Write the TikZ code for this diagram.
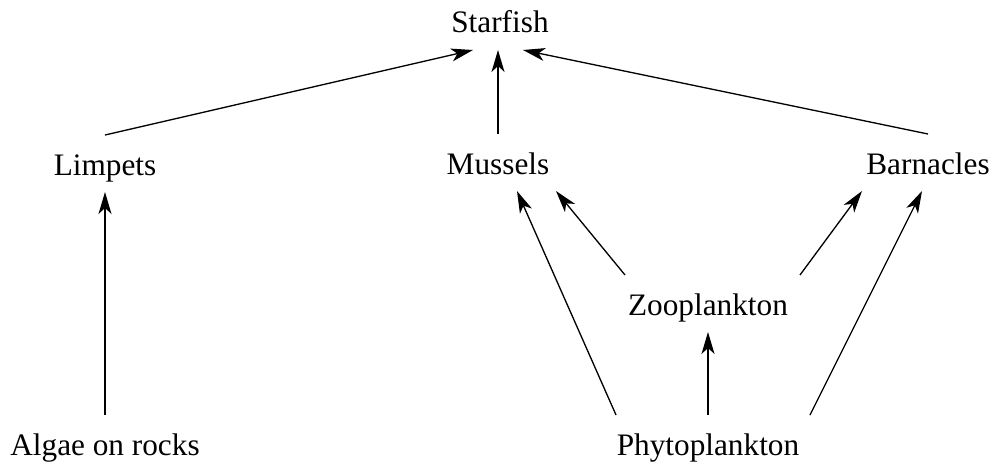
\documentclass[tikz,border=0pt]{standalone}
\usepackage{fontspec}
\setmainfont{Liberation Serif}
\usepackage{tikz}
\usetikzlibrary{arrows.meta, positioning}

\tikzset{species/.style={inner sep=0pt, outer sep=0pt, inner ysep=0.1cm, text height=0.7cm, text depth=0.24cm, anchor=base, font=\fontsize{17.8}{20}\selectfont}}

\begin{document}
\begin{tikzpicture}[x=0.02cm, y=-0.02cm, line width=0.75pt, >={Stealth[length=0.44cm, width=0.26cm, inset=0.12cm]}]
\useasboundingbox (0,0) rectangle (994,466);
\node[species] (star) at (500,33) {Starfish};
\node[species] (lim) at (105,175) {Limpets};
\node[species] (mus) at (498,174) {Mussels};
\node[species] (bar) at (928,174) {Barnacles};
\node[species] (zoo) at (708,315) {Zooplankton};
\node[species] (alg) at (105,455) {Algae on rocks};
\node[species] (phy) at (708,455) {Phytoplankton};
\draw[->] (lim.north) -- ([xshift=-0.54cm]star.south);
\draw[->] (mus.north) -- (mus.north |- star.south);
\draw[->] (bar.north) -- ([xshift=0.46cm]star.south);
\draw[->] (alg.north) -- (lim.south);
\draw[->] ([xshift=-1.84cm]phy.north) -- ([xshift=0.38cm]mus.south);
\draw[->] ([xshift=-1.66cm]zoo.north) -- ([xshift=1.16cm]mus.south);
\draw[->] ([xshift=1.84cm]zoo.north) -- ([xshift=-1.32cm]bar.south);
\draw[->] ([xshift=2.04cm]phy.north) -- ([xshift=-0.12cm]bar.south);
\draw[->] (phy.north) -- (zoo.south);
\end{tikzpicture}
\end{document}
